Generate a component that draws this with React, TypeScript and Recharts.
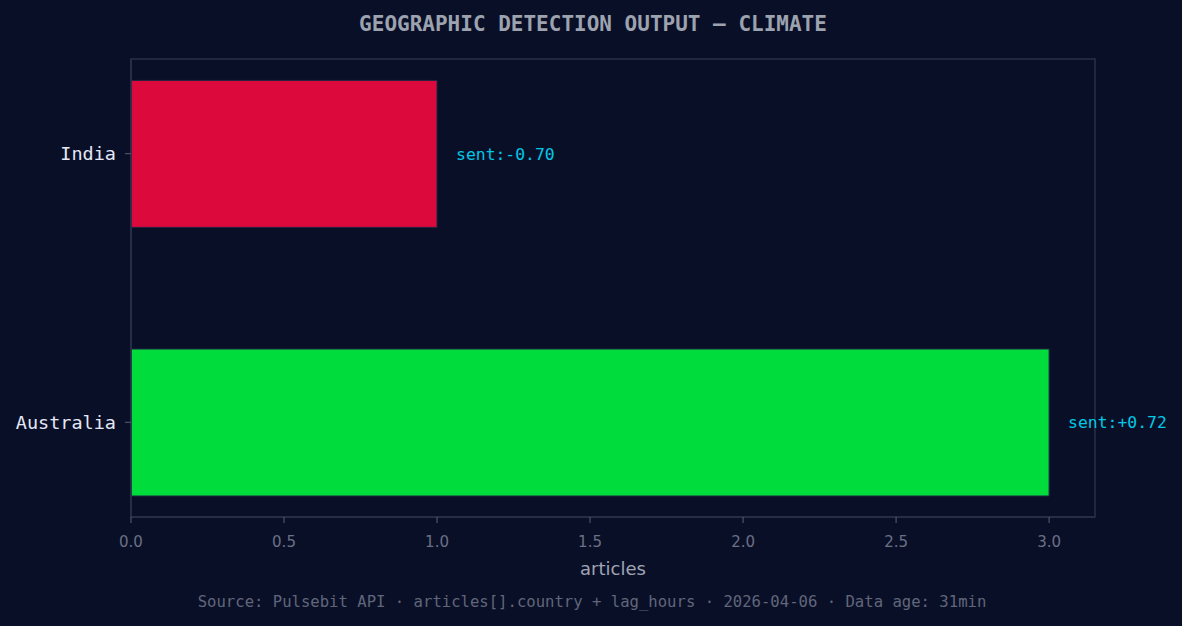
import { Bar, BarChart, Cell, LabelList, ReferenceArea, XAxis, YAxis } from "recharts";

// source data
const countries = ["India", "Australia"];
const articles = [1, 3];
const sentiment = [-0.7, 0.72];
const barColors = ["#dc0a3c", "#00dc3c"];
const xTicks = [0, 0.5, 1, 1.5, 2, 2.5, 3];

const BG = "#0a0f28";
const FRAME = "#2a2f4a";
const MONO = "'DejaVu Sans Mono', monospace";

const data = countries.map((c, i) => ({
  pos: i,
  country: c,
  articles: articles[i],
  sent: sentiment[i],
}));

const fmtSent = (v: number) => `sent:${v >= 0 ? "+" : ""}${v.toFixed(2)}`;

function SentLabel(props: any) {
  const { x, y, width, height, index } = props;
  return (
    <text
      x={x + width + 19}
      y={y + height / 2}
      dy="0.35em"
      fill="#00c8e6"
      fontSize={16.4}
      fontFamily={MONO}
    >
      {fmtSent(sentiment[index])}
    </text>
  );
}

export default function App() {
  return (
    <div
      style={{
        position: "absolute",
        left: 0,
        top: 0,
        width: 1182,
        height: 626,
        background: BG,
        overflow: "hidden",
      }}
    >
      <div
        style={{
          position: "absolute",
          top: 12,
          left: 2,
          width: 1182,
          textAlign: "center",
          fontFamily: MONO,
          fontWeight: "bold",
          fontSize: 21,
          color: "#9ca3af",
        }}
      >
        GEOGRAPHIC DETECTION OUTPUT — CLIMATE
      </div>
      <BarChart
        width={1182}
        height={626}
        data={data}
        layout="vertical"
        margin={{ top: 59, right: 87, bottom: 49, left: 11 }}
      >
        <ReferenceArea
          x1={0}
          x2={3.15}
          y1={-0.3525}
          y2={1.3525}
          fill="none"
          stroke={FRAME}
          strokeWidth={1.5}
          ifOverflow="visible"
        />
        <XAxis
          type="number"
          dataKey="articles"
          domain={[0, 3.15]}
          ticks={xTicks}
          tickFormatter={(v: number) => v.toFixed(1)}
          height={60}
          tickSize={6}
          tickMargin={13}
          axisLine={{ stroke: FRAME, strokeWidth: 1.5 }}
          tickLine={{ stroke: "#5a6078" }}
          tick={{ fill: "#6b7085", fontSize: 15, fontFamily: "'DejaVu Sans', sans-serif" }}
          label={{
            value: "articles",
            position: "insideBottom",
            offset: 2,
            fill: "#a0a4b4",
            fontSize: 18,
            fontFamily: "'DejaVu Sans', sans-serif",
          }}
        />
        <YAxis
          type="number"
          dataKey="pos"
          domain={[-0.3525, 1.3525]}
          ticks={[0, 1]}
          width={120}
          tickSize={6}
          tickMargin={9}
          tickFormatter={(v: number) => countries[v] ?? ""}
          axisLine={{ stroke: FRAME, strokeWidth: 1.5 }}
          tickLine={{ stroke: "#5a6078" }}
          tick={{ fill: "#e4e8f4", fontSize: 18.5, fontFamily: MONO }}
        />
        <Bar
          dataKey="articles"
          barSize={147}
          stroke="#1f2540"
          strokeWidth={1}
          isAnimationActive={false}
        >
          {data.map((d, i) => (
            <Cell key={d.country} fill={barColors[i]} />
          ))}
          <LabelList dataKey="sent" content={<SentLabel />} />
        </Bar>
      </BarChart>
      <div
        style={{
          position: "absolute",
          top: 593,
          left: 1,
          width: 1182,
          textAlign: "center",
          fontFamily: MONO,
          fontSize: 15.6,
          color: "#60667a",
        }}
      >
        Source: Pulsebit API · articles[].country + lag_hours · 2026-04-06 · Data age: 31min
      </div>
    </div>
  );
}
